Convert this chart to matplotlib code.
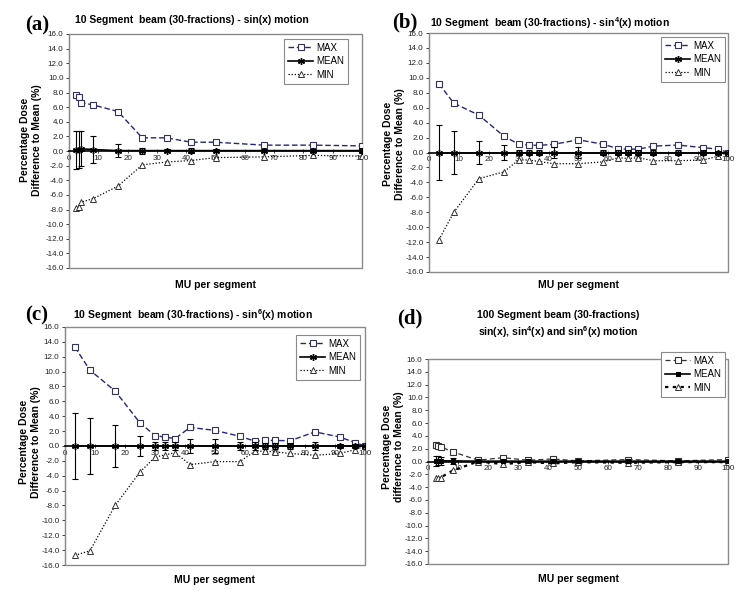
import numpy as np
import matplotlib
matplotlib.use('Agg')
import matplotlib.pyplot as plt
from matplotlib.patches import Rectangle
from matplotlib.lines import Line2D

plt.rcParams['font.family'] = ['Liberation Sans', 'DejaVu Sans']
plt.rcParams['mathtext.fontset'] = 'custom'
plt.rcParams['mathtext.rm'] = 'Liberation Sans:bold'
plt.rcParams['mathtext.default'] = 'rm'

W, H = 750, 594

# (a) 10 segment beam, sin(x)
a_mu = [2.5, 3.3, 4.2, 8.3, 16.7, 25, 33.3, 41.7, 50, 66.7, 83.3, 100]
a_max = [7.7, 7.4, 6.6, 6.3, 5.4, 1.8, 1.8, 1.2, 1.2, 0.8, 0.8, 0.7]
a_mean = [0.1, 0.2, 0.3, 0.2, 0.05, 0.05, 0.05, 0.05, 0.05, 0.05, 0.05, 0.05]
a_sd = [2.6, 2.5, 2.4, 1.9, 0.85, 0.4, 0.2, 0.3, 0.2, 0.2, 0.2, 0.3]
a_min = [-7.8, -7.6, -7.0, -6.5, -4.8, -1.9, -1.5, -1.3, -0.9, -0.8, -0.6, -0.7]

# (b) 10 segment beam, sin^4(x)
b_mu = [3.3, 8.3, 16.7, 25, 30, 33.3, 36.7, 41.7, 50, 58.3, 63.3, 66.7, 70, 75, 83.3, 91.7, 96.7, 100]
b_max = [9.2, 6.6, 5.0, 2.2, 1.1, 1.0, 0.95, 1.1, 1.7, 1.1, 0.5, 0.45, 0.45, 0.85, 1.0, 0.65, 0.45, 0.0]
b_mean = [0.0] * 18
b_sd = [3.7, 2.9, 1.6, 1.0, 0.4, 0.4, 0.4, 0.7, 0.7, 0.4, 0.4, 0.3, 0.3, 0.4, 0.3, 0.3, 0.2, 0.0]
b_min = [-11.7, -8.0, -3.5, -2.6, -1.0, -1.0, -1.2, -1.5, -1.5, -1.25, -0.7, -0.8, -0.7, -1.1, -1.1, -1.0, -0.5, 0.0]

# (c) 10 segment beam, sin^6(x)
c_mu = [3.3, 8.3, 16.7, 25, 30, 33.3, 36.7, 41.7, 50, 58.3, 63.3, 66.7, 70, 75, 83.3, 91.7, 96.7, 100]
c_max = [13.3, 10.2, 7.4, 3.1, 1.4, 1.2, 1.0, 2.5, 2.1, 1.3, 0.65, 0.75, 0.75, 0.7, 1.9, 1.2, 0.45, 0.0]
c_mean = [0.0] * 18
c_sd = [4.4, 3.8, 2.8, 1.4, 0.5, 0.5, 0.5, 0.9, 0.9, 0.6, 0.5, 0.4, 0.4, 0.4, 0.5, 0.3, 0.3, 0.0]
c_min = [-14.7, -14.1, -8.0, -3.5, -1.5, -1.2, -0.9, -2.5, -2.1, -2.1, -0.7, -0.7, -0.8, -1.0, -1.25, -1.0, -0.5, 0.0]

# (d) 100 segment beam, all motions
d_mu = [2.5, 3.3, 4.2, 8.3, 16.7, 25, 33.3, 41.7, 50, 66.7, 83.3, 100]
d_max = [2.5, 2.4, 2.3, 1.5, 0.2, 0.6, 0.2, 0.4, 0.1, 0.3, 0.1, 0.3]
d_mean = [0.1, 0.1, 0.1, 0.1, 0.05, 0.05, 0.05, 0.05, 0.05, 0.05, 0.05, 0.05]
d_sd = [0.8, 0.7, 0.6, 0.5, 0.2, 0.2, 0.1, 0.2, 0.1, 0.1, 0.1, 0.1]
d_min = [-2.6, -2.6, -2.5, -1.4, 0.0, -0.4, -0.1, -0.3, -0.1, -0.2, -0.1, -0.1]

yticks = np.arange(-16, 17, 2)
xticks = np.arange(0, 101, 10)

navy = '#25257c'
gray = '#8a8a8a'

fig = plt.figure(figsize=(7.5, 5.94), dpi=100)


def fx(x):
    return x / W


def fy(y):
    return 1 - y / H


def panel(box, mu, mx, mean, sd, mn, legbox, style='10'):
    l, t, r, b = box
    ax = fig.add_axes([fx(l), fy(b), (r - l) / W, (b - t) / H])
    ax.set_xlim(0, 100)
    ax.set_ylim(-16, 16)
    ax.set_yticks(yticks)
    ax.set_yticklabels(['%.1f' % v for v in yticks])
    ax.set_xticks(xticks)
    ax.tick_params(axis='y', labelsize=5.8, length=2.5, width=0.6, pad=1.5, colors='#222222')
    ax.tick_params(axis='x', labelsize=5.8, length=2.5, width=0.6, pad=1.5, direction='inout', colors='#222222')
    ax.spines['bottom'].set_position(('data', 0))
    ax.spines['bottom'].set_color('black')
    ax.spines['bottom'].set_linewidth(1.2)
    ax.spines['left'].set_color(gray)
    ax.spines['top'].set_visible(False)
    ax.spines['right'].set_visible(False)
    ax.add_patch(Rectangle((0, 0), 1, 1, transform=ax.transAxes, fill=False,
                           ec=gray, lw=1.0, clip_on=False))

    if style == '10':
        mx_kw = dict(color=navy, ls=(0, (4, 2)), lw=1.0, marker='s', ms=4,
                     mfc='white', mec='#333355', mew=0.8)
        mn_kw = dict(color='black', ls=(0, (1, 1.5)), lw=0.9, marker='^', ms=4,
                     mfc='white', mec='#333333', mew=0.7)
        me_kw = dict(color='black', ls='-', lw=1.2, marker=(6, 2, 0), ms=5, mew=1.0)
    else:
        mx_kw = dict(color='#333333', ls=(0, (4, 2.5)), lw=0.9, marker='s', ms=4,
                     mfc='white', mec='#333333', mew=0.8)
        mn_kw = dict(color='black', ls=(0, (1.5, 2)), lw=1.6, marker='^', ms=4,
                     mfc='white', mec='#333333', mew=0.7)
        me_kw = dict(color='black', ls='-', lw=1.2, marker='s', ms=3.5, mfc='black', mew=0.8)

    ax.plot(mu, mx, zorder=3, **mx_kw)
    ax.plot(mu, mn, zorder=3, **mn_kw)
    ax.errorbar(mu, mean, yerr=sd, fmt='none', ecolor='black', elinewidth=0.8,
                capsize=2, capthick=0.8, zorder=4)
    ax.plot(mu, mean, zorder=5, **me_kw)

    handles = [Line2D([], [], **mx_kw), Line2D([], [], **me_kw), Line2D([], [], **mn_kw)]
    lr, lt = legbox
    ax.legend(handles, ['MAX', 'MEAN', 'MIN'], loc='upper right',
              bbox_to_anchor=((lr - l) / (r - l), 1 - (lt - t) / (b - t)),
              borderaxespad=0, fontsize=7, fancybox=False, framealpha=1,
              edgecolor=gray, handlelength=2.6, handletextpad=0.3,
              labelspacing=0.35, borderpad=0.4)
    ax.get_legend().get_frame().set_linewidth(0.8)
    return ax


panel((69, 34, 362, 268), a_mu, a_max, a_mean, a_sd, a_min, (348, 39))
panel((429, 33, 728, 272), b_mu, b_max, b_mean, b_sd, b_min, (725, 37))
panel((65, 327, 365, 565), c_mu, c_max, c_mean, c_sd, c_min, (360, 335))
panel((428, 359, 728, 564), d_mu, d_max, d_mean, d_sd, d_min, (725, 352), style='100')

bold = dict(fontweight='bold', fontsize=7.5, ha='center', va='center')
fig.text(fx(192), fy(20), '10 Segment  beam (30-fractions) - sin(x) motion', **bold)
fig.text(fx(550), fy(23), '10 Segment  beam (30-fractions) - sin$^{4}$(x) motion', **bold)
fig.text(fx(193), fy(315), '10 Segment  beam (30-fractions) - sin$^{6}$(x) motion', **bold)
fig.text(fx(558), fy(325), '100 Segment beam (30-fractions)\nsin(x), sin$^{4}$(x) and sin$^{6}$(x) motion',
         linespacing=1.3, **bold)

ylab = dict(fontweight='bold', fontsize=7.5, ha='center', va='center', rotation=90,
            multialignment='center', linespacing=1.15)
fig.text(fx(31), fy(140), 'Percentage Dose\nDifference to Mean (%)', **ylab)
fig.text(fx(394), fy(144), 'Percentage Dose\nDifference to Mean (%)', **ylab)
fig.text(fx(30), fy(442), 'Percentage Dose\nDifference to Mean (%)', **ylab)
fig.text(fx(393), fy(447), 'Percentage Dose\ndifference to Mean (%)', **ylab)

for x, y in [(216, 285), (579, 285), (215, 580), (579, 579)]:
    fig.text(fx(x), fy(y), 'MU per segment', **bold)

plab = dict(fontweight='bold', fontsize=15, ha='center', va='center', family='Liberation Serif')
fig.text(fx(37), fy(25), '(a)', **plab)
fig.text(fx(405), fy(22), '(b)', **plab)
fig.text(fx(37), fy(315), '(c)', **plab)
fig.text(fx(410), fy(318), '(d)', **plab)

fig.savefig('out.png', dpi=100)
